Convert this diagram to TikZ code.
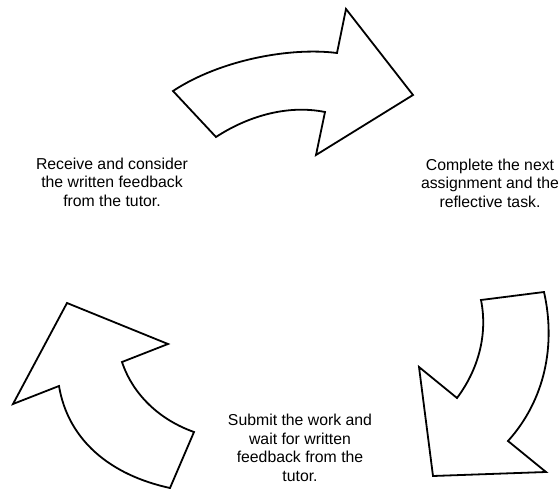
\documentclass[tikz,border=0pt]{standalone}
\usepackage{fontspec}
\setmainfont{Liberation Sans}
\usepackage{tikz}
\usetikzlibrary{positioning}

\begin{document}
\begin{tikzpicture}[x=1pt, y=-1pt, thick,
  bigarrow/.style={draw, line width=1.8pt, line join=miter, fill=white},
  note/.style={align=center, inner sep=0pt, font=\fontsize{15.8}{18.6}\selectfont}]

\useasboundingbox (0,0) rectangle (560,489);

% top arrow
\draw[bigarrow] (173,91) -- (216,137) .. controls (245,118) and (285,104) .. (325,112)
  -- (316,155) -- (413,95) -- (346,9) -- (337,53)
  .. controls (290,47) and (220,60) .. cycle;

% right arrow
\draw[bigarrow] (481,300) -- (544,292) .. controls (556,345) and (545,400) .. (508,441)
  -- (546,472) -- (433,476) -- (419,367) -- (457,398)
  .. controls (478,370) and (488,335) .. cycle;

% left arrow
\draw[bigarrow] (67,303) -- (168,344) -- (122,362) .. controls (133,395) and (160,420) .. (194,432)
  -- (170,488) .. controls (110,475) and (68,440) .. (59,386) -- (13,404) -- cycle;

% 
\node[note] (recv) at (112,182) {Receive and consider\\the written feedback\\from the tutor.};
\node[note] (compl) at (490,183) {Complete the next\\assignment and the\\reflective task.};
\node[note] (submit) at (300,448) {Submit the work and\\wait for written\\feedback from the\\tutor.};

\end{tikzpicture}
\end{document}
